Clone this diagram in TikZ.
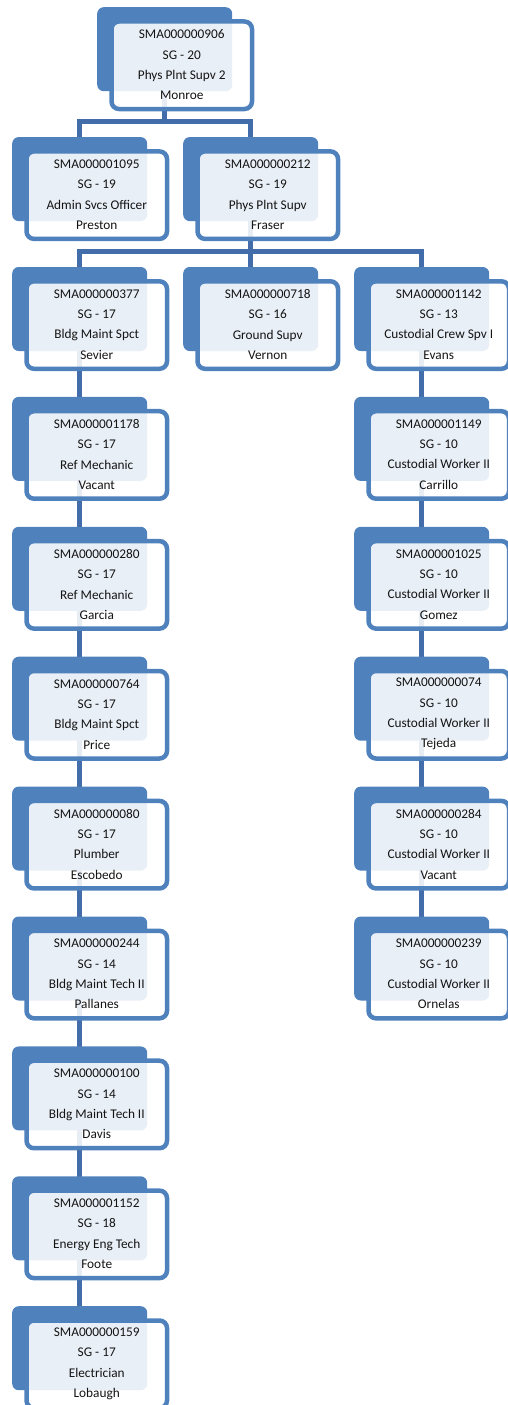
\documentclass[tikz,border=0pt]{standalone}
\usepackage{fontspec}
\setmainfont{Carlito}
\usetikzlibrary{backgrounds}
\definecolor{cardblue}{RGB}{79,129,189}
\definecolor{linkblue}{RGB}{66,108,170}
\definecolor{cardink}{RGB}{20,20,20}
\tikzset{
  backbox/.style={fill=cardblue, rounded corners=6.5pt, minimum width=135pt,
    minimum height=84pt, inner sep=0pt, anchor=north west},
  frontbox/.style={draw=cardblue, line width=4.5pt, fill=white, fill opacity=0.88,
    rounded corners=7.5pt, minimum width=140.5pt, minimum height=87.5pt,
    inner sep=0pt, anchor=north west},
  cardtext/.style={text=cardink, align=center, inner sep=0pt,
    font=\fontsize{13.3}{20.3}\selectfont},
  link/.style={draw=linkblue, line width=5pt, line join=miter}
}
% card: name, x, y (top-left of the back panel), four text lines
\newcommand\orgcard[7]{%
  \node[backbox] (#1) at (#2,#3) {};
  \node[frontbox] (#1f) at ([xshift=12.25pt,yshift=-12.25pt]#1.north west) {};
  \node[cardtext] (#1t) at ([yshift=0.5pt]#1f.center) {#4\\#5\\#6\\#7};
}
\begin{document}
\begin{tikzpicture}[x=1pt,y=-1pt]
\useasboundingbox (0,0) rectangle (508,1405);

\orgcard{mon}{97}{7}{SMA000000906}{SG - 20}{Phys Plnt Supv 2}{Monroe}
\orgcard{pre}{12}{136.9}{SMA000001095}{SG - 19}{Admin Svcs Officer}{Preston}
\orgcard{fra}{183}{136.9}{SMA000000212}{SG - 19}{Phys Plnt Supv}{Fraser}

\orgcard{sev}{12}{266.8}{SMA000000377}{SG - 17}{Bldg Maint Spct}{Sevier}
\orgcard{ver}{183}{266.8}{SMA000000718}{SG - 16}{Ground Supv}{Vernon}
\orgcard{eva}{354}{266.8}{SMA000001142}{SG - 13}{Custodial Crew Spv I}{Evans}

\orgcard{la}{12}{396.7}{SMA000001178}{SG - 17}{Ref Mechanic}{Vacant}
\orgcard{lb}{12}{526.6}{SMA000000280}{SG - 17}{Ref Mechanic}{Garcia}
\orgcard{lc}{12}{656.5}{SMA000000764}{SG - 17}{Bldg Maint Spct}{Price}
\orgcard{ld}{12}{786.4}{SMA000000080}{SG - 17}{Plumber}{Escobedo}
\orgcard{le}{12}{916.3}{SMA000000244}{SG - 14}{Bldg Maint Tech II}{Pallanes}
\orgcard{lf}{12}{1046.2}{SMA000000100}{SG - 14}{Bldg Maint Tech II}{Davis}
\orgcard{lg}{12}{1176.1}{SMA000001152}{SG - 18}{Energy Eng Tech}{Foote}
\orgcard{lh}{12}{1306}{SMA000000159}{SG - 17}{Electrician}{Lobaugh}

\orgcard{ra}{354}{396.7}{SMA000001149}{SG - 10}{Custodial Worker II}{Carrillo}
\orgcard{rb}{354}{526.6}{SMA000001025}{SG - 10}{Custodial Worker II}{Gomez}
\orgcard{rc}{354}{656.5}{SMA000000074}{SG - 10}{Custodial Worker II}{Tejeda}
\orgcard{rd}{354}{786.4}{SMA000000284}{SG - 10}{Custodial Worker II}{Vacant}
\orgcard{re}{354}{916.3}{SMA000000239}{SG - 10}{Custodial Worker II}{Ornelas}

% connectors run behind the cards
\begin{scope}[on background layer]
  \coordinate (busA) at (0,121);
  \coordinate (busB) at (0,251);
  \draw[link] (mon.center) -- (mon.center |- busA) -| (pre.center);
  \draw[link] (mon.center |- busA) -| (fra.center);
  \draw[link] (fra.center) -- (fra.center |- busB) -| (sev.center);
  \draw[link] (fra.center |- busB) -| (eva.center);
  \draw[link] (fra.center |- busB) -- (ver.center);
  \draw[link] (sev.center) -- (la.center);
  \draw[link] (la.center) -- (lb.center);
  \draw[link] (lb.center) -- (lc.center);
  \draw[link] (lc.center) -- (ld.center);
  \draw[link] (ld.center) -- (le.center);
  \draw[link] (le.center) -- (lf.center);
  \draw[link] (lf.center) -- (lg.center);
  \draw[link] (lg.center) -- (lh.center);
  \draw[link] (eva.center) -- (ra.center);
  \draw[link] (ra.center) -- (rb.center);
  \draw[link] (rb.center) -- (rc.center);
  \draw[link] (rc.center) -- (rd.center);
  \draw[link] (rd.center) -- (re.center);
\end{scope}
\end{tikzpicture}
\end{document}
